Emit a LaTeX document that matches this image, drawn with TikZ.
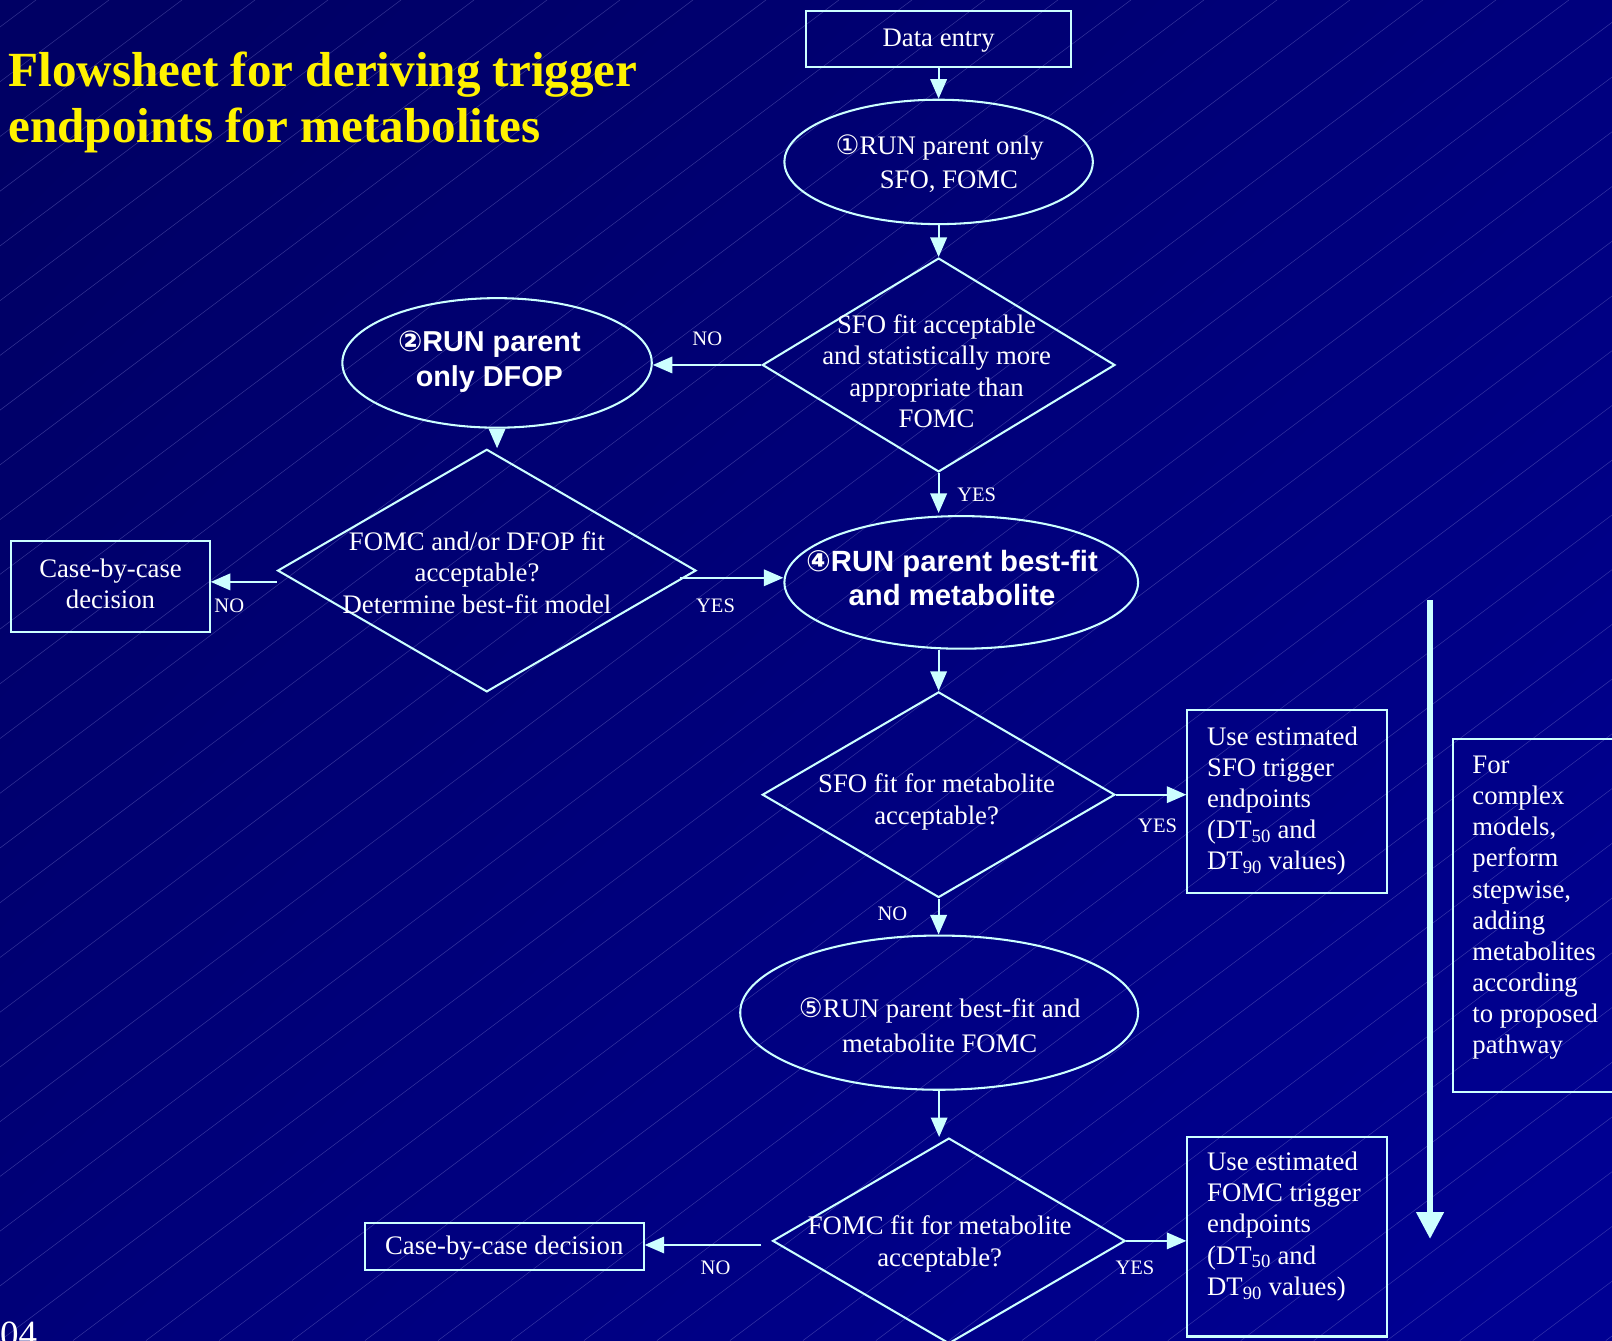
\documentclass[tikz,border=0pt]{standalone}
\usepackage{fontspec}
\setmainfont{Liberation Serif}
\newfontfamily\arialf{Liberation Sans}
\newfontfamily\dejavu{DejaVu Sans}
\usetikzlibrary{shapes.geometric,arrows.meta,calc}
\definecolor{lc}{RGB}{204,255,255}
\definecolor{bgA}{RGB}{0,0,100}
\definecolor{bgB}{RGB}{0,0,146}
\definecolor{hatchc}{RGB}{130,130,210}
\newcommand{\cdig}[1]{{\dejavu #1}}
\begin{document}
\begin{tikzpicture}[x=1pt,y=-1pt,
  shapeline/.style={draw=lc, line width=2pt},
  boxn/.style={shapeline, rectangle, inner sep=0pt},
  elln/.style={shapeline, ellipse, inner sep=0pt},
  dian/.style={shapeline, diamond, inner sep=0pt},
  txt/.style={text=white, align=center, font=\fontsize{26}{30.5}\selectfont, inner sep=0pt},
  btxt/.style={text=white, align=center, font=\arialf\bfseries\fontsize{28}{34}\selectfont, inner sep=0pt},
  ltxt/.style={text=white, align=left, font=\fontsize{26}{30.3}\selectfont, inner sep=0pt},
  lab/.style={text=white, font=\fontsize{20}{22}\selectfont, inner sep=0pt},
  arr/.style={draw=lc, line width=2pt, -{Triangle[length=19pt,width=16pt,fill=lc]}},
  bigarr/.style={draw=lc, line width=5pt, -{Triangle[length=26pt,width=26pt,fill=lc]}},
  hatch/.style={draw=hatchc, line width=0.5pt, opacity=0.4}
]
\clip (0,0) rectangle (1568,1304);
\shade[top color=bgA, bottom color=bgB, shading angle=45] (-200,-200) rectangle (1768,1504);
\foreach \i in {-26,...,23} { \draw[hatch] (\i*71,1304) -- ++(1739,-1304); }

% title
\node[anchor=north west, inner sep=0pt, align=left, text=yellow,
      font=\fontsize{47.8}{55}\selectfont\bfseries] (title) at (8,50)
      {Flowsheet for deriving trigger\\endpoints for metabolites};
\node[anchor=north west, inner sep=0pt, text=white, font=\fontsize{36}{40}\selectfont] (pg) at (0,1286) {04};

% shapes
\node[boxn, minimum width=258, minimum height=54] (de) at (913,38) {};
\node[elln, minimum width=300, minimum height=121] (e1) at (913,157.5) {};
\node[dian, minimum width=343, minimum height=208] (d1) at (913,355) {};
\node[elln, minimum width=301, minimum height=126] (e2) at (483.5,353) {};
\node[dian, minimum width=407, minimum height=236] (d2) at (473.5,555) {};
\node[boxn, minimum width=193, minimum height=88] (cb1) at (107.5,570.5) {};
\node[elln, minimum width=344, minimum height=129] (e4) at (935,566.5) {};
\node[dian, minimum width=343, minimum height=200] (d3) at (913,773) {};
\node[boxn, minimum width=194, minimum height=178] (sfo) at (1252,780) {};
\node[elln, minimum width=387, minimum height=150] (e5) at (913.5,985) {};
\node[dian, minimum width=343, minimum height=200] (d4) at (923,1207) {};
\node[boxn, minimum width=271, minimum height=46] (cb2) at (490.5,1212.5) {};
\node[boxn, minimum width=194, minimum height=194] (fomc) at (1252,1203) {};
\node[boxn, minimum width=187, minimum height=343] (side) at (1506.5,890.5) {};

% texts
\node[txt] (tde) at (913,40) {Data entry};
\node[txt, font=\fontsize{26}{33}\selectfont] (t1) at (914,159) {\cdig{①}RUN parent only\\\hspace*{18pt}SFO, FOMC};
\node[btxt] (t2) at (476,352) {\cdig{②}RUN parent\\only DFOP};
\node[txt] (td1) at (911,361) {SFO fit acceptable\\and statistically more\\appropriate than\\FOMC};
\node[txt, font=\fontsize{26}{31}\selectfont] (td2) at (464,557) {FOMC and/or DFOP fit\\acceptable?\\Determine best-fit model};
\node[txt] (tcb1) at (107.5,568) {Case-by-case\\decision};
\node[btxt, font=\arialf\bfseries\fontsize{28.5}{33}\selectfont] (t4) at (926,562.5) {\cdig{④}RUN parent best-fit\\and metabolite};
\node[txt, font=\fontsize{26}{31}\selectfont] (td3) at (911,780) {SFO fit for metabolite\\acceptable?};
\node[ltxt] (tsfo) [anchor=west] at (1174,779) {Use estimated\\SFO trigger\\endpoints\\(DT\textsubscript{50} and\\DT\textsubscript{90} values)};
\node[txt, font=\fontsize{26}{34}\selectfont] (t5) at (914,997) {\cdig{⑤}RUN parent best-fit and\\metabolite FOMC};
\node[txt, font=\fontsize{26}{31}\selectfont] (td4) at (914,1210) {FOMC fit for metabolite\\acceptable?};
\node[txt] (tcb2) at (490.5,1214.5) {Case-by-case decision};
\node[ltxt] (tfomc) [anchor=west] at (1174,1193) {Use estimated\\FOMC trigger\\endpoints\\(DT\textsubscript{50} and\\DT\textsubscript{90} values)};
\node[ltxt] (tside) [anchor=west] at (1432,883) {For\\complex\\models,\\perform\\stepwise,\\adding\\metabolites\\according\\to proposed\\pathway};

% labels
\node[lab] (l1) at (688,330) {NO};
\node[lab] (l2) at (950,481) {YES};
\node[lab] (l3) at (223,589) {NO};
\node[lab] (l4) at (696,589) {YES};
\node[lab] (l5) at (1126,803) {YES};
\node[lab] (l6) at (868,889) {NO};
\node[lab] (l7) at (696,1233) {NO};
\node[lab] (l8) at (1104,1233) {YES};

% connectors
\draw[arr] (de) -- (e1);
\draw[arr] (e1) -- (d1);
\draw[arr] (d1.west) -- (d1.west -| e2.east);
\draw[arr] (e2.south) -- (e2.south |- d2.north);
\coordinate (n1) at ($(d2.west)+(0,11)$);
\draw[arr] (n1) -- (n1 -| cb1.east);
\coordinate (y1) at ($(d2.east)+(-17,7)$);
\draw[arr] (y1) -- (y1 -| e4.west);
\draw[arr] (d1.south) -- ($(d1.south |- e4.north)+(0,-2)$);
\draw[arr] (d3.north |- e4.south) -- (d3.north);
\draw[arr] (d3.east) -- (d3.east -| sfo.west);
\draw[arr] (d3.south) -- (d3.south |- e5.north);
\draw[arr] (e5.south) -- (e5.south |- d4.north);
\coordinate (n2) at ($(d4.west)+(-10,4)$);
\draw[arr] (n2) -- (n2 -| cb2.east);
\draw[arr] (d4.east) -- (d4.east -| fomc.west);
\coordinate (bigtop) at (1391,584);
\coordinate (bigbot) at (1391,1205);
\draw[bigarr] (bigtop) -- (bigbot);
\end{tikzpicture}
\end{document}
